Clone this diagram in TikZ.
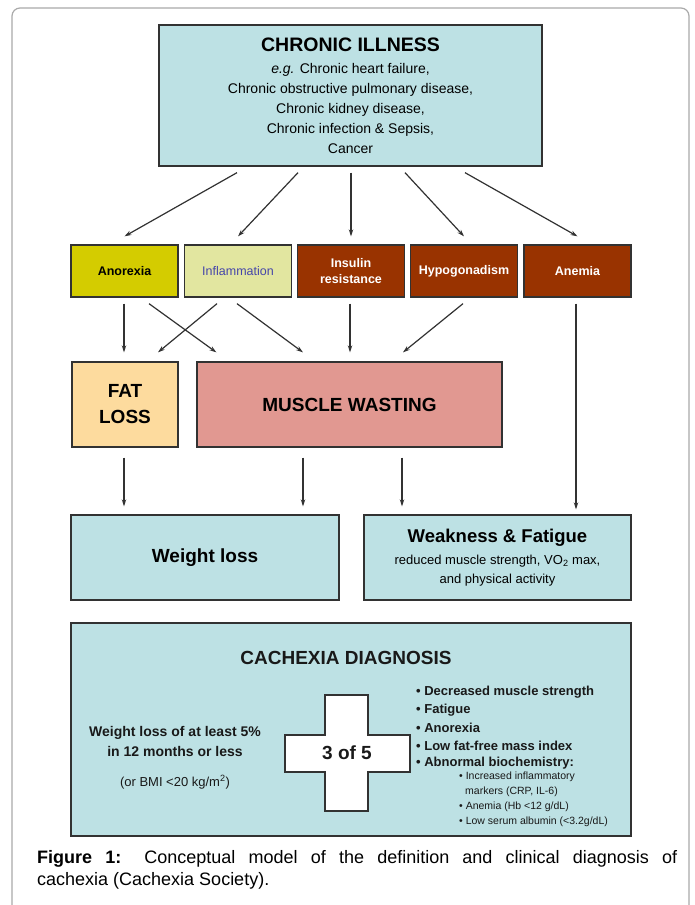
\documentclass[tikz,border=0pt]{standalone}
\usepackage{fontspec}
\setmainfont{Liberation Sans}
\usetikzlibrary{arrows.meta}
\definecolor{cyanbox}{RGB}{189,225,228}
\definecolor{anorex}{RGB}{212,204,0}
\definecolor{inflam}{RGB}{226,230,160}
\definecolor{inflamtxt}{RGB}{70,70,170}
\definecolor{brownbox}{RGB}{153,51,0}
\definecolor{fatbox}{RGB}{253,219,158}
\definecolor{musclebox}{RGB}{225,152,145}
\definecolor{framegray}{RGB}{170,170,170}
\definecolor{linegray}{RGB}{50,50,50}
\newcommand\fsz[2]{\fontsize{#1pt}{#2pt}\selectfont}
\begin{document}
\begin{tikzpicture}[x=1pt,y=-1pt,
  box/.style={draw=linegray, line width=1.3pt, inner sep=0pt, align=center},
  smallbox/.style={box, minimum width=107pt, minimum height=52pt, font=\fsz{12.5}{16}\bfseries},
  brown/.style={smallbox, fill=brownbox, text=white},
  arr/.style={draw=linegray, line width=1.2pt, -{Stealth[length=7pt,width=4.5pt]}},
  txt/.style={inner sep=0pt, text=black!90},
]
\useasboundingbox (0,0) rectangle (694,905);
\fill[white] (0,0) rectangle (694,905);
\draw[framegray, line width=1.2pt, rounded corners=8pt] (12,906) -- (12,8) -- (689,8) -- (689,906);

% top box
\node[box, fill=cyanbox, minimum width=383pt, minimum height=141pt, font=\fsz{14}{20}] (ill) at (350.5,95.5)
  {{\fsz{19.5}{20}\bfseries CHRONIC ILLNESS}\\[2pt]
   \textit{e.g.} Chronic heart failure,\\
   Chronic obstructive pulmonary disease,\\
   Chronic kidney disease,\\
   Chronic infection \& Sepsis,\\
   Cancer};

% mechanisms row
\node[smallbox, fill=anorex] (ano) at (124.5,271) {Anorexia};
\node[smallbox, fill=inflam, text=inflamtxt, font=\fsz{12.5}{16}] (inf) at (238,271) {Inflammation};
\node[brown] (ins) at (351,271) {Insulin\\resistance};
\node[brown] (hyp) at (464,271) {Hypogonadism};
\node[brown] (ane) at (577.5,271) {Anemia};

% wasting row
\node[box, fill=fatbox, minimum width=106pt, minimum height=85pt, font=\fsz{19}{26}\bfseries] (fat) at (125,404.5) {FAT\\LOSS};
\node[box, fill=musclebox, minimum width=305pt, minimum height=85pt, font=\fsz{19}{22}\bfseries] (mus) at (349.5,404.5) {MUSCLE WASTING};

% outcomes row
\node[box, fill=cyanbox, minimum width=268pt, minimum height=85pt, font=\fsz{19}{22}\bfseries] (wl) at (205,557.5) {Weight loss};
\node[box, fill=cyanbox, minimum width=267pt, minimum height=85pt, font=\fsz{13}{19}] (wf) at (497.5,557.5)
  {{\fsz{18.5}{22}\bfseries Weakness \& Fatigue}\\[3pt]
   reduced muscle strength, VO\textsubscript{2} max,\\
   and physical activity};

% diagnosis box
\node[box, fill=cyanbox, minimum width=560pt, minimum height=213pt] (dx) at (351,729.5) {};
\node[txt, font=\fsz{19}{22}\bfseries] (dxt) at (346,658) {CACHEXIA DIAGNOSIS};
\draw[draw=linegray, line width=1.3pt, fill=white]
  (325,695) -- (368,695) -- (368,735) -- (410,735) -- (410,772) -- (368,772) -- (368,811)
  -- (325,811) -- (325,772) -- (285,772) -- (285,735) -- (325,735) -- cycle;
\node[txt, font=\fsz{19}{22}\bfseries] (three) at (347,753) {3 of 5};
\node[txt, align=center, font=\fsz{14}{20}\bfseries] (wl5) at (175,741) {Weight loss of at least 5\%\\in 12 months or less};
\node[txt, font=\fsz{13}{15}] (bmi) at (175,782) {(or BMI <20 kg/m\textsuperscript{2})};
\node[txt, anchor=west, font=\fsz{13}{15}\bfseries] (c1) at (416,692) {• Decreased muscle strength};
\node[txt, anchor=west, font=\fsz{13}{15}\bfseries] (c2) at (416,710) {• Fatigue};
\node[txt, anchor=west, font=\fsz{13}{15}\bfseries] (c3) at (416,728) {• Anorexia};
\node[txt, anchor=west, font=\fsz{13}{15}\bfseries] (c4) at (416,745.5) {• Low fat-free mass index};
\node[txt, anchor=west, font=\fsz{13}{15}\bfseries] (c5) at (416,763) {• Abnormal biochemistry:};
\node[txt, anchor=west, font=\fsz{10.5}{12}] (s1) at (459,777) {• Increased inflammatory};
\node[txt, anchor=west, font=\fsz{10.5}{12}] (s1b) at (465,791.5) {markers (CRP, IL-6)};
\node[txt, anchor=west, font=\fsz{10.5}{12}] (s2) at (459,806.5) {• Anemia (Hb <12 g/dL)};
\node[txt, anchor=west, font=\fsz{10.5}{12}] (s3) at (459,821.5) {• Low serum albumin (<3.2g/dL)};

% arrows from chronic illness
\draw[arr] ([xshift=-113.5pt,yshift=-6pt]ill.south) -- ([yshift=8pt]ano.north);
\draw[arr] ([xshift=-52.5pt,yshift=-6pt]ill.south) -- ([yshift=8pt]inf.north);
\draw[arr] ([xshift=0.5pt,yshift=-6pt]ill.south) -- ([yshift=8pt]ins.north);
\draw[arr] ([xshift=54.5pt,yshift=-6pt]ill.south) -- ([yshift=8pt]hyp.north);
\draw[arr] ([xshift=114.5pt,yshift=-6pt]ill.south) -- ([yshift=8pt]ane.north);

% arrows to wasting
\draw[arr] ([xshift=-0.5pt,yshift=-6pt]ano.south) -- ([xshift=-1pt,yshift=9pt]fat.north);
\draw[arr] ([xshift=24.5pt,yshift=-6pt]ano.south) -- ([xshift=20pt,yshift=9pt]mus.north west);
\draw[arr] ([xshift=-21pt,yshift=-6pt]inf.south) -- ([xshift=33pt,yshift=9pt]fat.north);
\draw[arr] ([xshift=-1pt,yshift=-6pt]inf.south) -- ([xshift=-46.5pt,yshift=9pt]mus.north);
\draw[arr] ([xshift=-1pt,yshift=-6pt]ins.south) -- ([xshift=0.5pt,yshift=9pt]mus.north);
\draw[arr] ([xshift=-1pt,yshift=-6pt]hyp.south) -- ([xshift=53.5pt,yshift=9pt]mus.north);
\draw[arr] ([xshift=-1.5pt,yshift=-6pt]ane.south) -- ([xshift=78.5pt,yshift=5pt]wf.north);

% arrows to outcomes
\draw[arr] ([xshift=-1pt,yshift=-10pt]fat.south) -- ([xshift=-81pt,yshift=8pt]wl.north);
\draw[arr] ([xshift=-46.5pt,yshift=-10pt]mus.south) -- ([xshift=98pt,yshift=8pt]wl.north);
\draw[arr] ([xshift=52.5pt,yshift=-10pt]mus.south) -- ([xshift=-95.5pt,yshift=8pt]wf.north);

% caption
\node[anchor=north west, inner sep=0pt, text width=640pt, align=justify, font=\fsz{18}{22}] (cap) at (37,850)
  {\textbf{Figure 1:} Conceptual model of the definition and clinical diagnosis of\linebreak cachexia (Cachexia Society).};
\end{tikzpicture}
\end{document}
